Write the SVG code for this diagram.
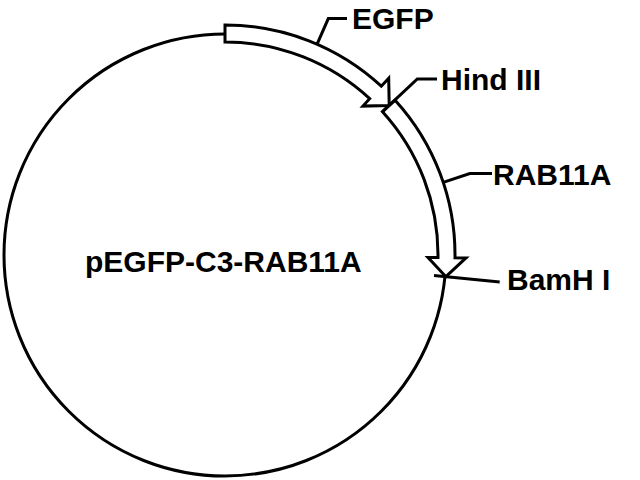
<svg xmlns="http://www.w3.org/2000/svg" width="640" height="480" viewBox="0 0 640 480">
<style>
.ln{fill:none;stroke:#000;stroke-width:3;stroke-linejoin:miter}
.band{fill:#fff;stroke:#000;stroke-width:3;stroke-linejoin:miter}
.lbl{font-family:"Liberation Sans",Arial,sans-serif;font-weight:bold;font-size:30px;fill:#000}
</style>
<rect width="640" height="480" fill="#fff"/>
<g id="backbone">
<circle cx="225" cy="255" r="221" class="ln"/>
</g>
<g id="EGFP">
<path class="band" d="M225,25 A230,230 0 0 1 381.3,86.2 L388.7,78.2 L389.2,105.6 L362.9,106.1 L369.7,98.7 A213,213 0 0 0 225,42 Z"/>
</g>
<g id="RAB11A">
<path class="band" d="M395.1,100.2 A230,230 0 0 1 455,257.8 L466,257.9 L445.9,276.7 L428,257.5 L438,257.6 A213,213 0 0 0 382.5,111.7 Z"/>
</g>
<g id="connectors">
<path class="ln" d="M317.1,44.2 L328.3,18.6 L347,18.6"/>
<path class="ln" d="M382.5,111.7 L417.3,79 L437,79"/>
<path class="ln" d="M443.2,182.4 L469.8,173.6 L492,173.6"/>
<path class="ln" d="M434,275.5 L499.7,281.9"/>
</g>
<g id="labels">
<text class="lbl" x="352" y="29">EGFP</text>
<text class="lbl" x="441" y="90">Hind III</text>
<text class="lbl" x="493" y="185">RAB11A</text>
<text class="lbl" x="507" y="290">BamH I</text>
<text class="lbl" x="85" y="272">pEGFP-C3-RAB11A</text>
</g>
</svg>
